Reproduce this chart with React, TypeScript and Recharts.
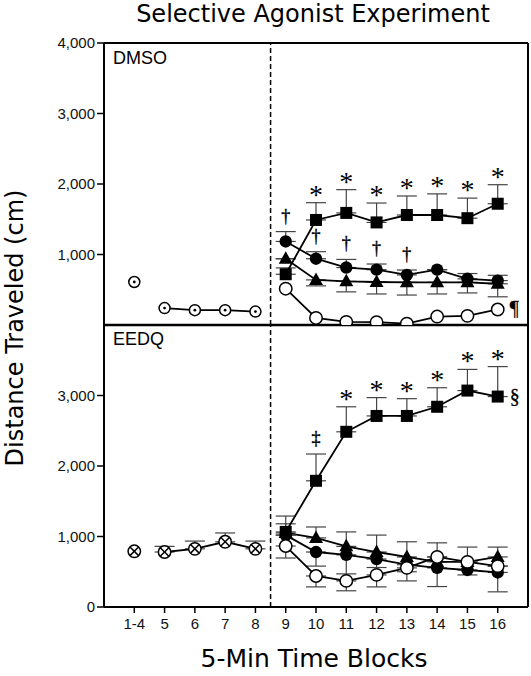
import React from 'react';
import { LineChart, Line, XAxis, YAxis, ErrorBar, ReferenceLine, LabelList } from 'recharts';

const N = null;

const categories = ['1-4', '5', '6', '7', '8', '9', '10', '11', '12', '13', '14', '15', '16'];
const yTicksTop = [0, 1000, 2000, 3000, 4000];
const yTicksBottom = [0, 1000, 2000, 3000];

// DMSO panel
const dmsoPre14 = [610, N, N, N, N, N, N, N, N, N, N, N, N];
const dmsoPre = [N, 240, 210, 210, 190, N, N, N, N, N, N, N, N];
const dmsoSquare = [N, N, N, N, N, 720, 1490, 1590, 1455, 1560, 1560, 1515, 1720];
const dmsoSquareErr = [N, N, N, N, N, 90, 245, 330, 275, 270, 300, 285, 270];
const dmsoFilled = [N, N, N, N, N, 1185, 940, 815, 785, 710, 785, 655, 630];
const dmsoFilledErr = [N, N, N, N, N, 140, 100, 115, 80, 70, 0, 75, 75];
const dmsoTriangle = [N, N, N, N, N, 940, 640, 620, 610, 605, 605, 605, 585];
const dmsoTriangleErr = [N, N, N, N, N, 0, 85, 150, 170, 180, 165, 150, 185];
const dmsoOpen = [N, N, N, N, N, 515, 100, 45, 40, 20, 120, 130, 220];
const dmsoSquareMark = [N, N, N, N, N, N, '*', '*', '*', '*', '*', '*', '*'];
const dmsoFilledMark = [N, N, N, N, N, '†', '†', '†', '†', '†', N, N, N];
const dmsoOpenNote = [N, N, N, N, N, N, N, N, N, N, N, N, '¶'];

// EEDQ panel
const eedqPre14 = [790, N, N, N, N, N, N, N, N, N, N, N, N];
const eedqPre = [N, 780, 825, 925, 825, N, N, N, N, N, N, N, N];
const eedqPreErr = [N, 80, 110, 125, 110, N, N, N, N, N, N, N, N];
const eedqSquare = [N, N, N, N, N, 1065, 1790, 2485, 2710, 2710, 2840, 3070, 2985];
const eedqSquareErr = [N, N, N, N, N, 225, 380, 355, 260, 245, 270, 300, 425];
const eedqTriangle = [N, N, N, N, N, 1050, 980, 860, 780, 710, 640, 640, 710];
const eedqTriangleErr = [N, N, N, N, N, 130, 155, 205, 240, 215, 270, 210, 140];
const eedqFilled = [N, N, N, N, N, 1020, 780, 740, 680, 600, 555, 525, 490];
const eedqFilledErr = [N, N, N, N, N, 0, 200, 270, 120, 100, 265, 70, 275];
const eedqOpen = [N, N, N, N, N, 865, 440, 370, 455, 555, 710, 640, 580];
const eedqOpenErr = [N, N, N, N, N, 170, 155, 140, 170, 185, 0, 0, 0];
const eedqSquareMark = [N, N, N, N, N, N, '‡', '*', '*', '*', '*', '*', '*'];
const eedqSquareNote = [N, N, N, N, N, N, N, N, N, N, N, N, '§'];

// injection happens between block 8 and block 9
const injectionAt = 4.5;

const up = (e: number | null) => (e == null ? null : [0, e]);
const down = (e: number | null) => (e == null ? null : [e, 0]);
const markY = (mark: any, v: number | null, e: number | null) =>
  mark == null || v == null ? null : v + (e || 0);

const topRows = categories.map((label, i) => ({
  x: i,
  label,
  pre14: dmsoPre14[i],
  pre: dmsoPre[i],
  square: dmsoSquare[i],
  squareEB: up(dmsoSquareErr[i]),
  filled: dmsoFilled[i],
  filledEB: up(dmsoFilledErr[i]),
  triangle: dmsoTriangle[i],
  triangleEB: down(dmsoTriangleErr[i]),
  open: dmsoOpen[i],
  openNote: dmsoOpenNote[i],
  squareMark: dmsoSquareMark[i],
  squareMarkY: markY(dmsoSquareMark[i], dmsoSquare[i], dmsoSquareErr[i]),
  filledMark: dmsoFilledMark[i],
  filledMarkY: markY(dmsoFilledMark[i], dmsoFilled[i], dmsoFilledErr[i]),
}));

const bottomRows = categories.map((label, i) => ({
  x: i,
  label,
  pre14: eedqPre14[i],
  pre: eedqPre[i],
  preEB: up(eedqPreErr[i]),
  square: eedqSquare[i],
  squareEB: up(eedqSquareErr[i]),
  squareNote: eedqSquareNote[i],
  triangle: eedqTriangle[i],
  triangleEB: up(eedqTriangleErr[i]),
  filled: eedqFilled[i],
  filledEB: down(eedqFilledErr[i]),
  open: eedqOpen[i],
  openEB: down(eedqOpenErr[i]),
  squareMark: eedqSquareMark[i],
  squareMarkY: markY(eedqSquareMark[i], eedqSquare[i], eedqSquareErr[i]),
}));

const SANS = '"Liberation Sans", Arial, Helvetica, sans-serif';
const SERIF = '"Liberation Serif", "Times New Roman", serif';
const BIG = '"DejaVu Sans", sans-serif';

const marker = (kind: string) => (props: any) => {
  const { cx, cy, index, value } = props;
  const key = `${kind}-${index}`;
  if (cx == null || cy == null || value == null) return <g key={key} />;
  if (kind === 'square')
    return <rect key={key} x={cx - 6} y={cy - 6} width={12} height={12} fill="#000" />;
  if (kind === 'filled') return <circle key={key} cx={cx} cy={cy} r={6.2} fill="#000" />;
  if (kind === 'triangle')
    return (
      <polygon key={key} points={`${cx},${cy - 7.5} ${cx - 7},${cy + 5} ${cx + 7},${cy + 5}`} fill="#000" />
    );
  if (kind === 'open')
    return <circle key={key} cx={cx} cy={cy} r={6.2} fill="#fff" stroke="#000" strokeWidth={1.5} />;
  if (kind === 'dotted')
    return (
      <g key={key}>
        <circle cx={cx} cy={cy} r={5.5} fill="#fff" stroke="#000" strokeWidth={1.5} />
        <circle cx={cx} cy={cy} r={1.4} fill="#000" />
      </g>
    );
  // crossed circle
  const d = 4.3;
  return (
    <g key={key}>
      <circle cx={cx} cy={cy} r={6.2} fill="#fff" stroke="#000" strokeWidth={1.5} />
      <line x1={cx - d} y1={cy - d} x2={cx + d} y2={cy + d} stroke="#000" strokeWidth={1.5} />
      <line x1={cx - d} y1={cy + d} x2={cx + d} y2={cy - d} stroke="#000" strokeWidth={1.5} />
    </g>
  );
};

const markAbove = (props: any) => {
  const { x, y, value, index } = props;
  if (value == null || x == null || y == null) return null;
  const sym = String(value);
  if (sym === '*')
    return (
      <text key={index} x={x} y={y + 1} textAnchor="middle" fontFamily={SERIF} fontSize={28} fill="#000">
        {sym}
      </text>
    );
  return (
    <text
      key={index}
      x={x}
      y={y - 10}
      textAnchor="middle"
      fontFamily={SERIF}
      fontSize={18}
      fill="#000"
      stroke="#000"
      strokeWidth={0.4}
    >
      {sym}
    </text>
  );
};

const noteRight = (props: any) => {
  const { x, y, value, index } = props;
  if (value == null || x == null || y == null) return null;
  return (
    <text key={index} x={x + 12} y={y + 6} fontFamily={SERIF} fontSize={20} fill="#000" stroke="#000" strokeWidth={0.3}>
      {value}
    </text>
  );
};

const lineProps = {
  type: 'linear' as const,
  stroke: '#000',
  strokeWidth: 1.8,
  isAnimationActive: false,
  connectNulls: false,
  activeDot: false as const,
  legendType: 'none' as const,
};

const ebProps = { width: 10, stroke: '#444', strokeWidth: 1.2, direction: 'y' as const };

const tickStyle = { fontSize: 15, fontFamily: SANS, fill: '#111' };
const fmt = (v: number) => v.toLocaleString('en-US');

const App: React.FC = () => {
  return (
    <div style={{ position: 'absolute', left: 0, top: 0, width: 531, height: 676, background: '#fff' }}>
      <div style={{ position: 'absolute', left: 0, top: 0 }}>
        <LineChart width={531} height={330} data={topRows} margin={{ top: 43, right: 3, bottom: 5, left: 0 }}>
          <XAxis dataKey="x" type="number" domain={[-1, 13]} hide />
          <YAxis
            domain={[0, 4000]}
            ticks={yTicksTop}
            width={104}
            tickFormatter={fmt}
            tick={tickStyle}
            tickSize={7}
            tickMargin={2}
            axisLine={{ stroke: '#000', strokeWidth: 2 }}
            tickLine={{ stroke: '#000', strokeWidth: 1.5 }}
            allowDataOverflow
          />
          <ReferenceLine y={4000} stroke="#000" strokeWidth={2} />
          <ReferenceLine y={0} stroke="#000" strokeWidth={2.5} />
          <ReferenceLine x={13} stroke="#000" strokeWidth={2} />
          <ReferenceLine x={injectionAt} stroke="#000" strokeWidth={1.5} strokeDasharray="5 3" />
          <Line {...lineProps} dataKey="pre14" dot={marker('dotted')} />
          <Line {...lineProps} dataKey="pre" dot={marker('dotted')} />
          <Line {...lineProps} dataKey="open" dot={marker('open')}>
            <LabelList dataKey="openNote" content={noteRight} />
          </Line>
          <Line {...lineProps} dataKey="triangle" dot={marker('triangle')}>
            <ErrorBar dataKey="triangleEB" {...ebProps} />
          </Line>
          <Line {...lineProps} dataKey="filled" dot={marker('filled')}>
            <ErrorBar dataKey="filledEB" {...ebProps} />
          </Line>
          <Line {...lineProps} dataKey="square" dot={marker('square')}>
            <ErrorBar dataKey="squareEB" {...ebProps} />
          </Line>
          <Line {...lineProps} dataKey="squareMarkY" stroke="none" dot={false}>
            <LabelList dataKey="squareMark" content={markAbove} />
          </Line>
          <Line {...lineProps} dataKey="filledMarkY" stroke="none" dot={false}>
            <LabelList dataKey="filledMark" content={markAbove} />
          </Line>
        </LineChart>
      </div>
      <div style={{ position: 'absolute', left: 0, top: 300 }}>
        <LineChart width={531} height={376} data={bottomRows} margin={{ top: 25, right: 3, bottom: 39, left: 0 }}>
          <XAxis
            dataKey="x"
            type="number"
            domain={[-1, 13]}
            ticks={categories.map((_, i) => i)}
            interval={0}
            tickFormatter={(i: number) => categories[i] ?? ''}
            tick={tickStyle}
            tickSize={6}
            tickMargin={5}
            height={30}
            axisLine={{ stroke: '#000', strokeWidth: 2 }}
            tickLine={{ stroke: '#000', strokeWidth: 1.5 }}
          />
          <YAxis
            domain={[0, 4000]}
            ticks={yTicksBottom}
            width={104}
            tickFormatter={fmt}
            tick={tickStyle}
            tickSize={7}
            tickMargin={2}
            axisLine={{ stroke: '#000', strokeWidth: 2 }}
            tickLine={{ stroke: '#000', strokeWidth: 1.5 }}
            allowDataOverflow
          />
          <ReferenceLine x={13} stroke="#000" strokeWidth={2} />
          <ReferenceLine x={injectionAt} stroke="#000" strokeWidth={1.5} strokeDasharray="5 3" />
          <Line {...lineProps} dataKey="pre14" dot={marker('crossed')} />
          <Line {...lineProps} dataKey="pre" dot={marker('crossed')}>
            <ErrorBar dataKey="preEB" {...ebProps} />
          </Line>
          <Line {...lineProps} dataKey="triangle" dot={marker('triangle')}>
            <ErrorBar dataKey="triangleEB" {...ebProps} />
          </Line>
          <Line {...lineProps} dataKey="filled" dot={marker('filled')}>
            <ErrorBar dataKey="filledEB" {...ebProps} />
          </Line>
          <Line {...lineProps} dataKey="square" dot={marker('square')}>
            <ErrorBar dataKey="squareEB" {...ebProps} />
            <LabelList dataKey="squareNote" content={noteRight} />
          </Line>
          <Line {...lineProps} dataKey="open" dot={marker('open')}>
            <ErrorBar dataKey="openEB" {...ebProps} />
          </Line>
          <Line {...lineProps} dataKey="squareMarkY" stroke="none" dot={false}>
            <LabelList dataKey="squareMark" content={markAbove} />
          </Line>
        </LineChart>
      </div>
      <svg width={531} height={676} style={{ position: 'absolute', left: 0, top: 0, pointerEvents: 'none' }}>
        <text x={313} y={22} textAnchor="middle" fontFamily={BIG} fontSize={24} fill="#000">
          Selective Agonist Experiment
        </text>
        <text x={113} y={63.5} fontFamily={SANS} fontSize={18} fill="#000">
          DMSO
        </text>
        <text x={113} y={345} fontFamily={SANS} fontSize={18} fill="#000">
          EEDQ
        </text>
        <text x={314} y={667} textAnchor="middle" fontFamily={BIG} fontSize={25} fill="#000">
          5-Min Time Blocks
        </text>
        <text
          transform="translate(23, 328) rotate(-90)"
          textAnchor="middle"
          fontFamily={BIG}
          fontSize={24}
          fill="#000"
        >
          Distance Traveled (cm)
        </text>
      </svg>
    </div>
  );
};

export default App;
